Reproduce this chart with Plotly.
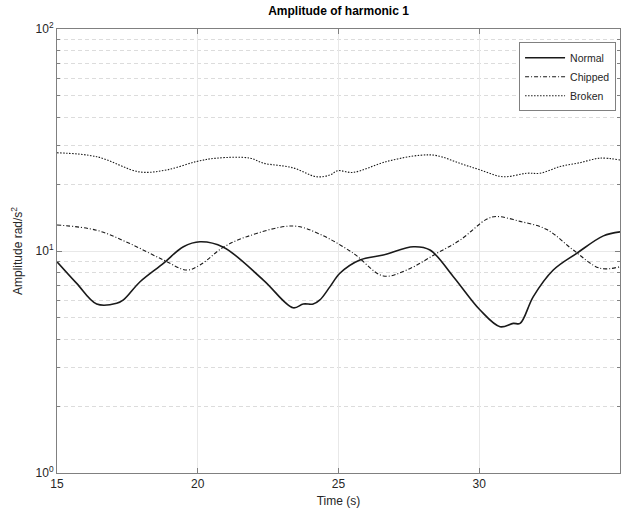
import plotly.graph_objects as go

# Data (time in s, amplitude in rad/s^2)
t_normal = [15, 15.7, 16.41, 17.12, 17.36, 17.95, 18.78, 19.49, 20.08, 20.91, 22.33, 23.39,
            23.75, 24.10, 24.34, 24.70, 25.05, 25.76, 26.59, 27.66, 28.25, 29.08, 30.03, 30.74,
            31.21, 31.45, 31.92, 32.63, 33.46, 34.41, 35]
v_normal = [8.95, 7.15, 5.77, 5.81, 6.02, 7.27, 8.80, 10.45, 11.0, 10.4, 7.40, 5.55,
            5.77, 5.77, 6.02, 6.91, 7.94, 9.11, 9.59, 10.45, 10.1, 7.66, 5.42, 4.56,
            4.72, 4.72, 6.23, 8.21, 9.76, 11.7, 12.2]

t_chipped = [15, 16.41, 17.59, 18.78, 19.61, 20.08, 20.91, 21.74, 23.39, 24.34, 25.53, 26.59,
             27.42, 28.49, 29.32, 30.26, 30.62, 31.45, 32.40, 33.34, 34.29, 35]
v_chipped = [13.1, 12.4, 10.8, 9.11, 8.21, 8.65, 10.4, 11.6, 12.96, 11.9, 9.76, 7.72,
             8.21, 9.76, 11.2, 13.9, 14.3, 13.6, 12.5, 10.1, 8.36, 8.5]

t_broken = [15, 16.41, 17.95, 18.90, 19.96, 20.67, 21.86, 22.32, 23.38, 24.22, 24.70, 24.98,
            25.51, 26.71, 27.90, 28.49, 29.32, 30.03, 30.84, 31.69, 32.16, 32.87, 33.58, 34.29, 35]
v_broken = [27.7, 26.6, 22.7, 23.2, 25.3, 26.2, 26.2, 24.9, 23.7, 21.6, 22.0, 23.0,
            22.6, 25.3, 27.0, 26.9, 24.8, 23.2, 21.6, 22.4, 22.4, 24.0, 25.0, 26.2, 25.7]

x_ticks = [15, 20, 25, 30, 35]
y_ticks = [1, 10, 100]
y_ticktext = ["10<sup>0</sup>", "10<sup>1</sup>", "10<sup>2</sup>"]

FONT = "Liberation Sans, Arial, sans-serif"
AX = "#808080"

fig = go.Figure()
fig.add_trace(go.Scatter(x=t_normal, y=v_normal, name="Normal", mode="lines",
                         line=dict(color="#1a1a1a", width=1.6, dash="solid", shape="spline")))
fig.add_trace(go.Scatter(x=t_chipped, y=v_chipped, name="Chipped", mode="lines",
                         line=dict(color="#1a1a1a", width=1.1, dash="4px,2px,1px,2px", shape="spline")))
fig.add_trace(go.Scatter(x=t_broken, y=v_broken, name="Broken", mode="lines",
                         line=dict(color="#1a1a1a", width=1.1, dash="1.5px,1.5px", shape="spline")))

fig.update_layout(
    width=622, height=519,
    margin=dict(l=57, r=2, t=29, b=46),
    paper_bgcolor="white", plot_bgcolor="white",
    font=dict(family=FONT, size=11, color="#262626"),
    title=dict(text="<b>Amplitude of harmonic 1</b>", x=(57 + 563 / 2) / 622, xanchor="center",
               y=1 - 11 / 519, yanchor="middle", font=dict(size=12, color="#000000")),
    showlegend=True,
    legend=dict(x=0.993, xanchor="right", y=0.97, yanchor="top",
                bgcolor="white", bordercolor=AX, borderwidth=1,
                font=dict(size=10.5, color="#262626"), tracegroupgap=0,
                itemwidth=40),
)

fig.update_xaxes(
    range=[15, 35], tickvals=x_ticks, ticks="inside", ticklen=5, tickcolor=AX,
    showline=True, linecolor=AX, linewidth=1, mirror="ticks",
    showgrid=True, gridcolor="#e8e8e8", gridwidth=1, zeroline=False,
    title=dict(text="Time (s)", font=dict(size=12), standoff=6),
    tickfont=dict(size=12),
)
fig.update_yaxes(
    type="log", range=[0, 2], tickvals=y_ticks, ticktext=y_ticktext,
    ticks="inside", ticklen=5, tickcolor=AX,
    showline=True, linecolor=AX, linewidth=1, mirror="ticks",
    showgrid=True, gridcolor="#e8e8e8", gridwidth=1, zeroline=False,
    minor=dict(dtick="D1", showgrid=True, gridcolor="#dcdcdc", griddash="4px,3px",
               ticks="inside", ticklen=3, tickcolor=AX),
    title=dict(text="Amplitude rad/s<sup>2</sup>", font=dict(size=12), standoff=10),
    tickfont=dict(size=12),
)

fig.write_html("out.html", config={"displayModeBar": False},
               post_script="document.body.style.margin='0';")
